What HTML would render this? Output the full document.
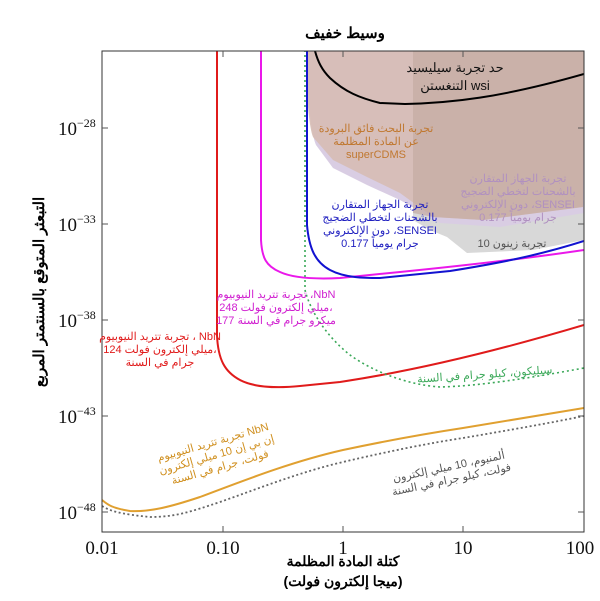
<!DOCTYPE html>
<html><head><meta charset="utf-8"><style>
body{margin:0;background:#fff;width:600px;height:596px;overflow:hidden}
</style></head><body>
<svg width="600" height="596" viewBox="0 0 600 596" xmlns="http://www.w3.org/2000/svg" font-family="Liberation Sans, Noto Sans CJK SC, sans-serif">
<defs><clipPath id="c"><rect x="102" y="51" width="482" height="481"/></clipPath></defs>
<text x="345" y="38" font-size="15" font-weight="bold" text-anchor="middle">وسيط خفيف</text>
<g clip-path="url(#c)">
<path d="M413,51 L413,220 L430,230 L447,237 L467,253 L533,250 L584,240 L584,51Z" fill="#d8d8d8"/>
<path d="M308,51 L308,90 C310,120 312,135 316,145 L333,168 L367,185 L400,200 L440,223 L500,227 L584,213 L584,51Z" fill="#d9cde3"/>
<path d="M306,51 L306,83 C308,110 310,130 313,137 L333,160 L367,177 L400,193 L433,217 L483,220 L583,207 L584,51Z" fill="#d6bcb4" opacity="0.9"/>
<path d="M413,51 L413,213 L433,217 L483,220 L583,207 L584,51Z" fill="#c4aba3" opacity="0.7"/>
<path d="M217,45 L217,335 C218,360 225,372 240,380 C255,388 280,388 300,386 L340,382 C420,370 500,350 584,325" fill="none" stroke="#e01b1b" stroke-width="2"/>
<path d="M261,45 L261,240 C262,258 266,266 280,272 C295,279 320,279 340,278 L400,272 C470,265 530,258 584,250" fill="none" stroke="#ea18ea" stroke-width="2"/>
<path d="M307,45 L307,225 C309,248 315,262 330,270 C345,278 365,278 380,278 L450,271 C500,263 540,255 584,241" fill="none" stroke="#1212d0" stroke-width="2"/>
<path d="M305,45 L305,290 C310,310 325,335 350,355 C375,373 410,385 440,387 C480,386 530,378 584,368" fill="none" stroke="#3aa858" stroke-width="1.6" stroke-dasharray="2,3"/>
<path d="M315,51 C318,62 322,70 330,78 C345,92 360,98 380,103 L405,104 C450,103 500,98 584,74" fill="none" stroke="#000" stroke-width="2"/>
<path d="M102,500 C108,505 112,508 130,511 C150,512 170,507 200,497 C240,482 290,462 343,450 C390,440 430,433 463,428 C510,420 550,414 584,408" fill="none" stroke="#e0a030" stroke-width="2"/>
<path d="M102,506 C110,511 120,514 150,517 C175,517 190,512 220,502 C260,488 300,472 343,462 C390,451 430,443 463,438 C510,430 550,423 584,416" fill="none" stroke="#666" stroke-width="1.8" stroke-dasharray="2,2.5"/>
</g>
<rect x="102" y="51" width="482" height="481" fill="none" stroke="#333" stroke-width="1"/>
<g stroke="#555" stroke-width="1">
<line x1="102" y1="128" x2="108" y2="128"/><line x1="102" y1="224" x2="108" y2="224"/><line x1="102" y1="320" x2="108" y2="320"/><line x1="102" y1="416" x2="108" y2="416"/><line x1="102" y1="512" x2="108" y2="512"/>
<line x1="584" y1="128" x2="578" y2="128"/><line x1="584" y1="224" x2="578" y2="224"/><line x1="584" y1="320" x2="578" y2="320"/><line x1="584" y1="416" x2="578" y2="416"/><line x1="584" y1="512" x2="578" y2="512"/>
<line x1="223" y1="532" x2="223" y2="526"/><line x1="343" y1="532" x2="343" y2="526"/><line x1="463" y1="532" x2="463" y2="526"/>
<line x1="223" y1="51" x2="223" y2="57"/><line x1="343" y1="51" x2="343" y2="57"/><line x1="463" y1="51" x2="463" y2="57"/>
</g>
<g font-family="Liberation Serif, serif" font-size="19" fill="#111">
<text x="58" y="135">10<tspan dy="-8" font-size="12">−28</tspan></text>
<text x="58" y="231">10<tspan dy="-8" font-size="12">−33</tspan></text>
<text x="58" y="327">10<tspan dy="-8" font-size="12">−38</tspan></text>
<text x="58" y="423">10<tspan dy="-8" font-size="12">−43</tspan></text>
<text x="58" y="519">10<tspan dy="-8" font-size="12">−48</tspan></text>
<text x="102" y="554" text-anchor="middle">0.01</text>
<text x="223" y="554" text-anchor="middle">0.10</text>
<text x="343" y="554" text-anchor="middle">1</text>
<text x="463" y="554" text-anchor="middle">10</text>
<text x="580" y="554" text-anchor="middle">100</text>
</g>
<text x="343" y="566" font-size="14" text-anchor="middle" font-weight="bold">كتلة المادة المظلمة</text>
<text x="343" y="586" font-size="14" text-anchor="middle" font-weight="bold">(ميجا إلكترون فولت)</text>
<text transform="translate(44,292) rotate(-90)" font-size="15" font-weight="bold" text-anchor="middle">التبعثر المتوقع بالسنتمتر المربع</text>
<g font-size="11" text-anchor="middle">
<text x="455" y="72" font-size="13" fill="#111">حد تجربة سيليسيد</text>
<text x="455" y="90" font-size="13" fill="#111">التنغستن wsi</text>
<g fill="#c07830"><text x="376" y="132">تجربة البحث فائق البرودة</text><text x="376" y="145">عن المادة المظلمة</text><text x="376" y="158">superCDMS</text></g>
<g fill="#b090c0"><text x="518" y="182">تجربة الجهاز المتقارن</text><text x="518" y="195">بالشحنات لتخطي الضجيج</text><text x="518" y="208">دون الإلكتروني ،SENSEI</text><text x="518" y="221">0.177 جرام يومياً</text></g>
<g fill="#2020c0"><text x="380" y="208">تجربة الجهاز المتقارن</text><text x="380" y="221">بالشحنات لتخطي الضجيج</text><text x="380" y="234">دون الإلكتروني ،SENSEI</text><text x="380" y="247">0.177 جرام يومياً</text></g>
<text x="512" y="247" fill="#555">تجربة زينون 10</text>
<g fill="#d020d0"><text x="276" y="298">تجربة تتريد النيوبيوم ،NbN</text><text x="276" y="311">248 ميلي إلكترون فولت،</text><text x="276" y="324">177 ميكرو جرام في السنة</text></g>
<g fill="#e01b1b"><text x="160" y="340">تجربة تتريد النيوبيوم ، NbN</text><text x="160" y="353">124 ميلي إلكترون فولت،</text><text x="160" y="366">جرام في السنة</text></g>
<text x="485" y="378" fill="#3aa858" transform="rotate(-4 485 378)">سيليكون، كيلو جرام في السنة</text>
<g fill="#d09020" transform="rotate(-16 218 460)"><text x="218" y="445">تجربة تتريد النيوبيوم NbN</text><text x="218" y="458">إن بي إن 10 ميلي إلكترون</text><text x="218" y="471">فولت، جرام في السنة</text></g>
<g fill="#555" transform="rotate(-12 452 482)"><text x="452" y="470">ألمنيوم، 10 ميلي إلكترون</text><text x="452" y="483">فولت، كيلو جرام في السنة</text></g>
</g>
</svg>
</body></html>
